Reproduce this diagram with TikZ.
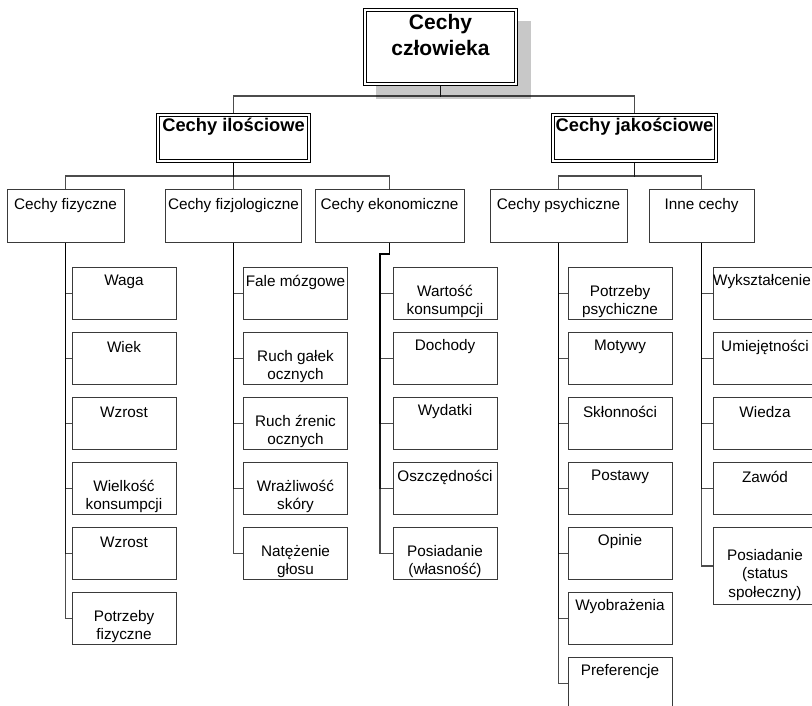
\documentclass[tikz,border=0pt]{standalone}
\usepackage{fontspec}
\setmainfont{Liberation Sans}
\usetikzlibrary{calc,backgrounds}

\definecolor{rim}{HTML}{3A3A3A}
\definecolor{shadowgray}{HTML}{C8C8C8}

% one leaf of the tree: name, centre x, row, drop of the text below the top edge, text
\newcommand\orgleaf[5]{%
  \node[leafbox] (#1) at (#2,{293.5+65*(#3-1)}) {};
  \node[txt] (#1-t) at ($(#1.north)+(0,#4)$) {#5};}

\begin{document}
\begin{tikzpicture}[x=1pt,y=-1pt,
  every node/.style={inner sep=0pt},
  frame/.style={draw=rim, line width=1pt, fill=white},
  dbl/.style={draw=black, line width=0.9pt, double=white, double distance=2pt, fill=white},
  groupbox/.style={frame, minimum height=53pt},
  leafbox/.style={frame, minimum width=104pt, minimum height=52pt},
  txt/.style={align=center, font=\fontsize{15.3}{18.8}\selectfont},
  headtxt/.style={align=center, font=\bfseries\fontsize{18.3}{22}\selectfont},
  toptxt/.style={align=center, font=\bfseries\fontsize{21}{26}\selectfont},
  link/.style={draw=black, line width=1.1pt, draw opacity=0.7},
]
\useasboundingbox (0,0) rectangle (812,705);
\clip (0,0) rectangle (812,705);

% root
\node[dbl, minimum width=151pt, minimum height=74pt] (top) at (440.5,47) {};
\node[toptxt] (top-t) at ($(top.north)+(0,25)$) {Cechy\\człowieka};

% second level
\node[dbl, minimum width=151pt, minimum height=46pt] (il) at (233.5,138) {};
\node[headtxt] (il-t) at ($(il.north)+(0,12)$) {Cechy ilościowe};
\node[dbl, minimum width=163pt, minimum height=46pt] (jak) at (634.5,138) {};
\node[headtxt] (jak-t) at ($(jak.north)+(0,12)$) {Cechy jakościowe};

% third level
\node[groupbox, minimum width=117pt] (fz)  at (65.5,215.5) {};
\node[groupbox, minimum width=136pt] (fj)  at (233.5,215.5) {};
\node[groupbox, minimum width=149pt] (ek)  at (389.5,215.5) {};
\node[groupbox, minimum width=137pt] (ps)  at (558.5,215.5) {};
\node[groupbox, minimum width=105pt] (inn) at (701.5,215.5) {};
\node[txt] (fz-t)  at ($(fz.north)+(0,17)$)  {Cechy fizyczne};
\node[txt] (fj-t)  at ($(fj.north)+(0,17)$)  {Cechy fizjologiczne};
\node[txt] (ek-t)  at ($(ek.north)+(0,17)$)  {Cechy ekonomiczne};
\node[txt] (ps-t)  at ($(ps.north)+(0,17)$)  {Cechy psychiczne};
\node[txt] (inn-t) at ($(inn.north)+(0,17)$) {Inne cechy};

% leaves: physical
\orgleaf{fz1}{124}{1}{15}{Waga}
\orgleaf{fz2}{124}{2}{15}{Wiek}
\orgleaf{fz3}{124}{3}{15}{Wzrost}
\orgleaf{fz4}{124}{4}{34.5}{Wielkość\\konsumpcji}
\orgleaf{fz5}{124}{5}{15}{Wzrost}
\orgleaf{fz6}{124}{6}{34.5}{Potrzeby\\fizyczne}

% leaves: physiological
\orgleaf{fj1}{295.5}{1}{15}{Fale mózgowe}
\orgleaf{fj2}{295.5}{2}{34.5}{Ruch gałek\\ocznych}
\orgleaf{fj3}{295.5}{3}{34.5}{Ruch źrenic\\ocznych}
\orgleaf{fj4}{295.5}{4}{34.5}{Wrażliwość\\skóry}
\orgleaf{fj5}{295.5}{5}{34.5}{Natężenie\\głosu}

% leaves: economic
\orgleaf{ek1}{445}{1}{34.5}{Wartość\\konsumpcji}
\orgleaf{ek2}{445}{2}{15}{Dochody}
\orgleaf{ek3}{445}{3}{15}{Wydatki}
\orgleaf{ek4}{445}{4}{15}{Oszczędności}
\orgleaf{ek5}{445}{5}{34.5}{Posiadanie\\(własność)}

% leaves: psychological
\orgleaf{ps1}{620}{1}{34.5}{Potrzeby\\psychiczne}
\orgleaf{ps2}{620}{2}{15}{Motywy}
\orgleaf{ps3}{620}{3}{15}{Skłonności}
\orgleaf{ps4}{620}{4}{15}{Postawy}
\orgleaf{ps5}{620}{5}{15}{Opinie}
\orgleaf{ps6}{620}{6}{15}{Wyobrażenia}
\orgleaf{ps7}{620}{7}{15}{Preferencje}

% leaves: other (the column runs against the right edge)
\node[leafbox] (inn1) at (765,293.5) {};
\node[txt] (inn1-t) at ($(inn1.north)+(-3,15)$) {Wykształcenie};
\orgleaf{inn2}{765}{2}{15}{Umiejętności}
\orgleaf{inn3}{765}{3}{15}{Wiedza}
\orgleaf{inn4}{765}{4}{15}{Zawód}
\node[leafbox, minimum height=77pt] (inn5) at (765,566) {};
\node[txt] (inn5-t) at ($(inn5.north)+(0,48)$) {Posiadanie\\(status\\społeczny)};

% shadow and connectors underneath the boxes
\begin{scope}[on background layer]
  \fill[shadowgray] ($(top.north west)+(11.1,11.1)$) rectangle ($(top.south east)+(14.9,14.9)$);
  \coordinate (bus1) at (0,96);
  \coordinate (bus2) at (0,176);
  \coordinate (ekbus) at (380,254);
  \foreach \c in {il,jak} \draw[link] (top.south) -- (top.south |- bus1) -| (\c.north);
  \foreach \c in {fz,fj,ek} \draw[link] (il.south) -- (il.south |- bus2) -| (\c.north);
  \foreach \c in {ps,inn} \draw[link] (jak.south) -- (jak.south |- bus2) -| (\c.north);
  \foreach \k in {1,...,6} \draw[link] (fz.south) |- (fz\k.west);
  \foreach \k in {1,...,5} \draw[link] (fj.south) |- (fj\k.west);
  \foreach \k in {1,...,5} \draw[link] (ek.south) |- (ekbus) |- (ek\k.west);
  \foreach \k in {1,...,7} \draw[link] (ps.south) |- (ps\k.west);
  \foreach \k in {1,...,5} \draw[link] (inn.south) |- (inn\k.west);
\end{scope}
\end{tikzpicture}
\end{document}
